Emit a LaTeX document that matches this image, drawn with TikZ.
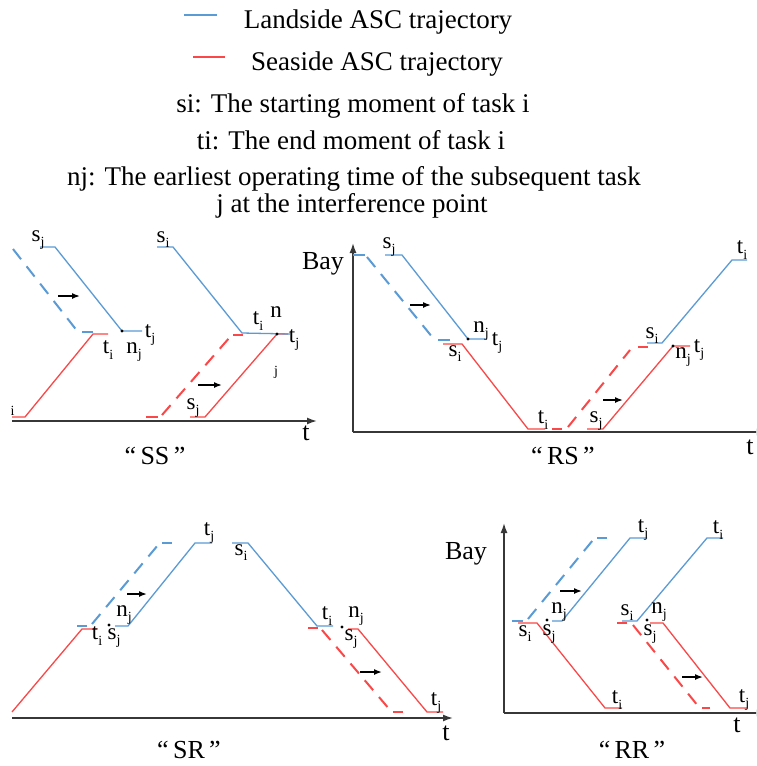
\documentclass[tikz,border=0pt]{standalone}
\usepackage{fontspec}
\setmainfont{Liberation Serif}
\usetikzlibrary{arrows.meta}
\definecolor{lblue}{RGB}{91,155,213}
\definecolor{lred}{RGB}{250,72,72}
\definecolor{axisgray}{RGB}{55,55,55}
\newcommand\mylab[2]{#1\raisebox{-0.22em}{\fontsize{14}{14}\selectfont #2}}
\tikzset{
  bl/.style={lblue,line width=1.3pt,line join=round},
  rd/.style={lred,line width=1.3pt,line join=round},
  bld/.style={lblue,line width=2pt,dash pattern=on 13pt off 9pt},
  rdd/.style={lred,line width=2pt,dash pattern=on 13pt off 9pt},
  bstub/.style={lblue,line width=2pt},
  rstub/.style={lred,line width=2pt},
  axisline/.style={axisgray,line width=1.6pt,-{Latex[length=10pt,width=7pt]}},
  mv/.style={black,line width=1.5pt,-{Latex[length=8pt,width=6pt]}},
  lab/.style={font=\fontsize{23}{23}\selectfont,inner sep=0pt},
  big/.style={font=\fontsize{26}{26}\selectfont,inner sep=0pt},
  txt/.style={font=\fontsize{27}{27}\selectfont,inner sep=0pt,anchor=base},
  dotm/.style={circle,fill=black,inner sep=0pt,minimum size=3.2pt},
}
\begin{document}
\begin{tikzpicture}[x=1pt,y=-1pt]
\clip (0,0) rectangle (756,766);
\fill[white] (0,0) rectangle (756,766);
% ---------------- legend ----------------
\draw[lblue,line width=1.6pt] (184,15) -- (217,15);
\draw[lred,line width=1.6pt] (193,57) -- (225,57);
\node[txt] (leg1) at (378,28) {Landside ASC trajectory};
\node[txt] (leg2) at (377,70) {Seaside ASC trajectory};
\node[txt] (leg3) at (353,112) {si: The starting moment of task i};
\node[txt] (leg4) at (351,149) {ti: The end moment of task i};
\node[txt] (leg5) at (354,185) {nj: The earliest operating time of the subsequent task};
\node[txt] (leg6) at (352,212) {j at the interference point};
% ---------------- SS ----------------
\draw[axisline] (12,421) -- (317,421);
\node[big] (ssT) at (306,433) {t};
\draw[rd] (12,417) -- (25,417) -- (93,334) -- (108,334);
\draw[bld] (13,249) -- (78,332);
\draw[bstub] (82,332) -- (93,332);
\draw[bl] (40,247) -- (55,247) -- (122,331) -- (142,331);
\node[dotm] (ssd1) at (122,331) {};
\draw[mv] (58,296) -- (80,296);
\node[lab] (ss1) at (38,240) {\mylab{s}{j}};
\node[lab] (ss2) at (150,335) {\mylab{t}{j}};
\node[lab] (ss3) at (108,350) {\mylab{t}{i}};
\node[lab] (ss4) at (134,352) {\mylab{n}{j}};
\begin{scope}
\clip (11,395) rectangle (30,425);
\node[lab] (ss5) at (8,408) {\mylab{s}{i}};
\end{scope}
\draw[rstub] (146,417) -- (158,417);
\draw[rdd] (162,415) -- (230,337);
\draw[rstub] (233,335) -- (243,335);
\draw[rd] (190,417) -- (205,417) -- (277,334) -- (288,334);
\draw[bl] (157,247) -- (173,247) -- (242,333) -- (290,334);
\node[dotm] (ssd2) at (277,334) {};
\draw[mv] (198,385) -- (222,385);
\node[lab] (ss6) at (163,240) {\mylab{s}{i}};
\node[lab] (ss7) at (258,321) {\mylab{t}{i}};
\node[lab] (ss8) at (276,312) {n};
\node[lab] (ss9) at (294,340) {\mylab{t}{j}};
\node[inner sep=0pt,font=\fontsize{14}{14}\selectfont] (ss10) at (276,372) {j};
\node[lab] (ss11) at (193,408) {\mylab{s}{j}};
\node[big] (ssC) at (155,456) {“\,SS\,”};
% ---------------- RS ----------------
\draw[axisline] (353,432) -- (353,243);
\draw[axisline] (353,432) -- (766,432);
\node[big] (rsBay) at (323,264) {Bay};
\node[big] (rsT) at (750,447) {t};
\draw[bstub] (353,255) -- (365,255);
\draw[bld] (367,257) -- (433,338);
\draw[bstub] (438,340) -- (450,340);
\draw[bl] (385,255) -- (402,255) -- (468,339) -- (487,339);
\node[dotm] (rsd1) at (468,339) {};
\draw[rd] (443,344) -- (462,344) -- (528,429) -- (545,429);
\draw[rstub] (552,429) -- (562,429);
\draw[rdd] (568,427) -- (630,350);
\draw[rstub] (638,347) -- (648,347);
\draw[rd] (587,429) -- (603,429) -- (673,346) -- (690,346);
\node[dotm] (rsd2) at (673,346) {};
\draw[bl] (647,343) -- (662,343) -- (732,260) -- (747,260);
\draw[mv] (410,305) -- (431,305);
\draw[mv] (603,400) -- (623,400);
\node[lab] (rs1) at (389,247) {\mylab{s}{j}};
\node[lab] (rs2) at (481,331) {\mylab{n}{j}};
\node[lab] (rs3) at (497,343) {\mylab{t}{j}};
\node[lab] (rs4) at (455,354) {\mylab{s}{i}};
\node[lab] (rs5) at (543,420) {\mylab{t}{i}};
\node[lab] (rs6) at (596,421) {\mylab{s}{j}};
\node[lab] (rs7) at (652,336) {\mylab{s}{i}};
\node[lab] (rs8) at (683,357) {\mylab{n}{j}};
\node[lab] (rs9) at (699,350) {\mylab{t}{j}};
\node[lab] (rs10) at (742,250) {\mylab{t}{i}};
\node[big] (rsC) at (563,456) {“\,RS\,”};
% ---------------- SR ----------------
\draw[axisline] (12,718) -- (453,718);
\node[big] (srT) at (446,733) {t};
\draw[rd] (12,712) -- (82,629) -- (97,629);
\draw[bstub] (77,626) -- (87,626);
\draw[bld] (92,624) -- (158,545);
\draw[bstub] (162,543) -- (172,543);
\draw[bl] (115,626) -- (128,626) -- (195,543) -- (212,543);
\draw[bl] (232,543) -- (248,543) -- (317,626) -- (333,626);
\draw[rstub] (308,628) -- (318,628);
\draw[rdd] (322,630) -- (390,710);
\draw[rstub] (393,712) -- (403,712);
\draw[rd] (348,629) -- (358,629) -- (427,712) -- (443,712);
\node[dotm] (srd1) at (109,625) {};
\node[dotm] (srd2) at (342,627) {};
\draw[mv] (127,594) -- (147,594);
\draw[mv] (360,672) -- (382,672);
\node[lab] (sr1) at (97,636) {\mylab{t}{i}};
\node[lab] (sr2) at (114,638) {\mylab{s}{j}};
\node[lab] (sr3) at (124,615) {\mylab{n}{j}};
\node[lab] (sr4) at (209,533) {\mylab{t}{j}};
\node[lab] (sr5) at (241,553) {\mylab{s}{i}};
\node[lab] (sr6) at (327,616) {\mylab{t}{i}};
\node[lab] (sr7) at (356,616) {\mylab{n}{j}};
\node[lab] (sr8) at (351,639) {\mylab{s}{j}};
\node[lab] (sr9) at (436,703) {\mylab{t}{j}};
\node[big] (srC) at (189,750) {“\,SR\,”};
% ---------------- RR ----------------
\draw[axisline] (504,713) -- (504,523);
\draw[axisline] (504,713) -- (766,713);
\node[big] (rrBay) at (466,554) {Bay};
\node[big] (rrT) at (737,725) {t};
\draw[bstub] (512,621) -- (523,621);
\draw[bld] (528,619) -- (593,540);
\draw[bstub] (597,538) -- (607,538);
\draw[rd] (518,623) -- (537,623) -- (605,708) -- (622,708);
\draw[bl] (552,621) -- (562,621) -- (630,538) -- (647,538);
\draw[bl] (622,621) -- (637,621) -- (707,538) -- (723,538);
\draw[rstub] (617,623) -- (627,623);
\draw[rdd] (633,625) -- (698,706);
\draw[rstub] (702,708) -- (710,708);
\draw[rd] (650,623) -- (663,623) -- (730,708) -- (747,708);
\node[dotm] (rrd1) at (547,620) {};
\node[dotm] (rrd2) at (647,620) {};
\draw[mv] (560,591) -- (582,591);
\draw[mv] (682,677) -- (703,677);
\node[lab] (rr1) at (643,530) {\mylab{t}{j}};
\node[lab] (rr2) at (718,530) {\mylab{t}{i}};
\node[lab] (rr3) at (559,612) {\mylab{n}{j}};
\node[lab] (rr4) at (525,634) {\mylab{s}{i}};
\node[lab] (rr5) at (549,634) {\mylab{s}{j}};
\node[lab] (rr6) at (627,613) {\mylab{s}{i}};
\node[lab] (rr7) at (659,612) {\mylab{n}{j}};
\node[lab] (rr8) at (650,634) {\mylab{s}{j}};
\node[lab] (rr9) at (617,700) {\mylab{t}{i}};
\node[lab] (rr10) at (744,700) {\mylab{t}{j}};
\node[big] (rrC) at (632,750) {“\,RR\,”};
\end{tikzpicture}
\end{document}
